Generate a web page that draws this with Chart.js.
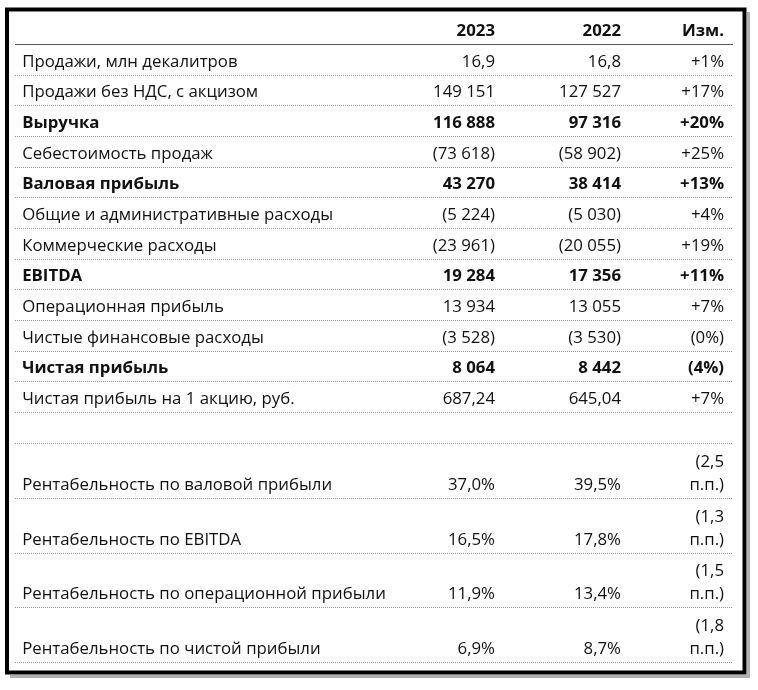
<!DOCTYPE html>
<html>
<head>
<meta charset="utf-8">
<script src="https://cdn.jsdelivr.net/npm/chart.js@4.4.1/dist/chart.umd.min.js"></script>
<style>
  body { margin: 0; background: #fff; }
  canvas { display: block; }
</style>
</head>
<body>
<canvas id="table" width="758" height="690"></canvas>
<script>
// table data
const columnLabels = ['2023', '2022', 'Изм.'];
const rowLabels = [
    'Продажи, млн декалитров',
    'Продажи без НДС, с акцизом',
    'Выручка',
    'Себестоимость продаж',
    'Валовая прибыль',
    'Общие и административные расходы',
    'Коммерческие расходы',
    'EBITDA',
    'Операционная прибыль',
    'Чистые финансовые расходы',
    'Чистая прибыль',
    'Чистая прибыль на 1 акцию, руб.'
];
const values2023 = [16.9, 149151, 116888, -73618, 43270, -5224, -23961, 19284, 13934, -3528, 8064, 687.24];
const values2022 = [16.8, 127527, 97316, -58902, 38414, -5030, -20055, 17356, 13055, -3530, 8442, 645.04];
const changes = ['+1%', '+17%', '+20%', '+25%', '+13%', '+4%', '+19%', '+11%', '+7%', '(0%)', '(4%)', '+7%'];
const decimals = [1, 0, 0, 0, 0, 0, 0, 0, 0, 0, 0, 2];

const marginLabels = [
    'Рентабельность по валовой прибыли',
    'Рентабельность по EBITDA',
    'Рентабельность по операционной прибыли',
    'Рентабельность по чистой прибыли'
];
const margin2023 = [37.0, 16.5, 11.9, 6.9];
const margin2022 = [39.5, 17.8, 13.4, 8.7];
const marginChanges = [['(2,5', 'п.п.)'], ['(1,3', 'п.п.)'], ['(1,5', 'п.п.)'], ['(1,8', 'п.п.)']];

// layout
const boldRows = [2, 4, 7, 10];
const FONT = '"Open Sans", sans-serif';
const fontSize = 16.8;
const headerHeight = 36, rowHeight = 30.67, blankHeight = 31, marginRowHeight = 54.75;
const colX = { label: 1, y2023: 66.85, y2022: 84.4, change: 98.75 };

function fmtNumber(v, d) {
    let s = Math.abs(v).toFixed(d).replace('.', ',');
    let parts = s.split(',');
    parts[0] = parts[0].replace(/\B(?=(\d{3})+(?!\d))/g, ' ');
    s = parts.join(',');
    return v < 0 ? '(' + s + ')' : s;
}
function fmtPct(v) {
    return v.toFixed(1).replace('.', ',') + '%';
}

// build rows
const rows = [];
rows.push({ h: headerHeight, cells: ['', ...columnLabels], bold: true, line: 'solid' });
rowLabels.forEach((lab, i) => {
    rows.push({
        h: rowHeight,
        cells: [lab, fmtNumber(values2023[i], decimals[i]), fmtNumber(values2022[i], decimals[i]), changes[i]],
        bold: boldRows.includes(i),
        line: 'dot'
    });
});
rows.push({ h: blankHeight, cells: ['', '', '', ''], bold: false, line: 'dot' });
marginLabels.forEach((lab, i) => {
    rows.push({
        h: marginRowHeight,
        cells: [lab, fmtPct(margin2023[i]), fmtPct(margin2022[i]), marginChanges[i]],
        bold: false,
        line: 'dot'
    });
});
let acc = 0;
rows.forEach(r => { acc += r.h; r.bottom = acc; });
const totalHeight = acc;

const tablePlugin = {
    id: 'tablePlugin',
    afterDraw(chart) {
        const ctx = chart.ctx;
        const x = chart.scales.x, y = chart.scales.y;
        ctx.save();
        // frame with shadow
        ctx.fillStyle = '#b0b0b0';
        ctx.fillRect(747, 12, 3, 666);
        ctx.fillRect(10, 675, 740, 3);
        ctx.strokeStyle = '#000';
        ctx.lineWidth = 4;
        ctx.strokeRect(7, 9.5, 737.5, 663);

        const x0 = x.getPixelForValue(0), x1 = x.getPixelForValue(100);
        rows.forEach(r => {
            const yb = Math.round(y.getPixelForValue(r.bottom)) + 0.5;
            ctx.beginPath();
            if (r.line === 'solid') {
                ctx.setLineDash([]);
                ctx.strokeStyle = '#555';
                ctx.lineWidth = 1.2;
            } else {
                ctx.setLineDash([1, 1]);
                ctx.strokeStyle = '#999';
                ctx.lineWidth = 1;
            }
            ctx.moveTo(x0, yb);
            ctx.lineTo(x1, yb);
            ctx.stroke();

            ctx.setLineDash([]);
            ctx.fillStyle = '#111';
            ctx.font = (r.bold ? 'bold ' : '') + fontSize + 'px ' + FONT;
            ctx.textBaseline = 'middle';
            const ty = yb - 13.5;
            ctx.textAlign = 'left';
            ctx.fillText(r.cells[0], x.getPixelForValue(colX.label), ty);
            ctx.textAlign = 'right';
            ctx.fillText(r.cells[1], x.getPixelForValue(colX.y2023), ty);
            ctx.fillText(r.cells[2], x.getPixelForValue(colX.y2022), ty);
            const ch = r.cells[3];
            if (Array.isArray(ch)) {
                ctx.fillText(ch[0], x.getPixelForValue(colX.change), ty - 22.5);
                ctx.fillText(ch[1], x.getPixelForValue(colX.change), ty);
            } else {
                ctx.fillText(ch, x.getPixelForValue(colX.change), ty);
            }
        });
        ctx.restore();
    }
};

new Chart(document.getElementById('table'), {
    type: 'scatter',
    data: { datasets: [] },
    options: {
        responsive: false,
        animation: false,
        layout: { padding: { left: 15, right: 25, top: 8, bottom: 28 } },
        scales: {
            x: { type: 'linear', min: 0, max: 100, display: false },
            y: { type: 'linear', min: 0, max: totalHeight, reverse: true, display: false }
        },
        plugins: { legend: { display: false }, tooltip: { enabled: false } }
    },
    plugins: [tablePlugin]
});
</script>
</body>
</html>
